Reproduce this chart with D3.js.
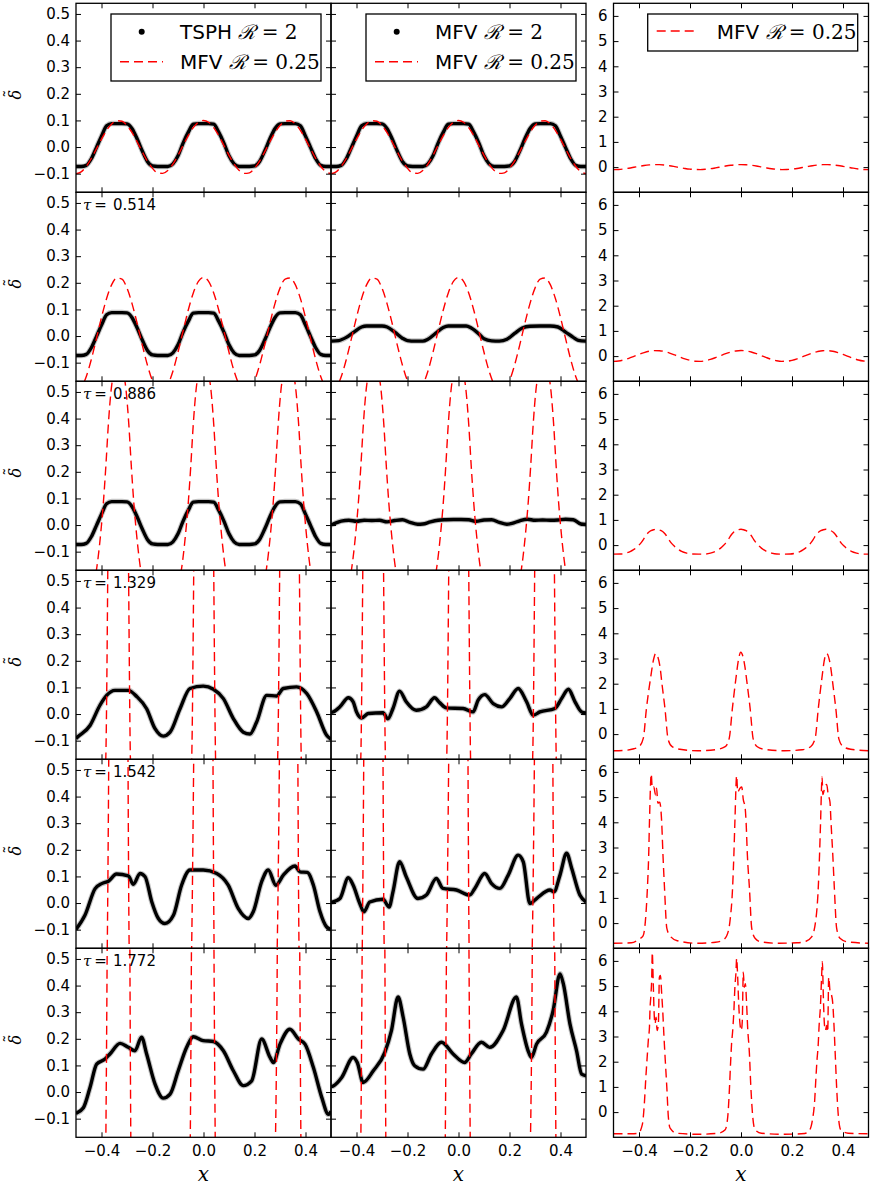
<!DOCTYPE html>
<html>
<head>
<meta charset="utf-8">
<script src="https://cdnjs.cloudflare.com/ajax/libs/d3/7.8.5/d3.min.js"></script>
<style>
body { margin: 0; background: #fff; }
svg text { font-family: "DejaVu Sans", sans-serif; fill: #000; }
</style>
</head>
<body>
<div id="chart"></div>
<script>
// sample positions used by the smooth early-time profiles
var xGrid = [-0.50,-0.48,-0.46,-0.44,-0.42,-0.40,-0.38,-0.36,-0.34,-0.32,-0.30,-0.28,-0.26,-0.24,-0.22,-0.20,-0.18,-0.16,-0.14,-0.12,-0.10,-0.08,-0.06,-0.04,-0.02,0.00,
	0.02,0.04,0.06,0.08,0.10,0.12,0.14,0.16,0.18,0.20,0.22,0.24,0.26,0.28,0.30,0.32,0.34,0.36,0.38,0.40,0.42,0.44,0.46,0.48,0.50];

// TSPH R=2 (rows 1-3 are unchanged), also the initial MFV R=2 profile
var tsphEarly = [-0.073,-0.073,-0.069,-0.044,-0.002,0.041,0.080,0.088,0.088,0.088,0.087,0.069,0.030,-0.015,-0.054,-0.071,-0.073,-0.073,-0.073,-0.063,-0.033,0.015,0.055,0.086,0.088,0.088,
	0.088,0.086,0.055,0.015,-0.033,-0.063,-0.073,-0.073,-0.073,-0.071,-0.054,-0.015,0.030,0.069,0.087,0.088,0.088,0.088,0.080,0.041,-0.002,-0.044,-0.069,-0.073,-0.073];

// MFV R=0.25 at tau=0 and tau=0.514
var red1 = [-0.100,-0.093,-0.073,-0.043,-0.007,0.030,0.063,0.087,0.099,0.097,0.081,0.054,0.019,-0.018,-0.053,-0.080,-0.097,-0.099,-0.088,-0.064,-0.031,0.006,0.043,0.073,0.093,0.100,
	0.093,0.073,0.043,0.006,-0.031,-0.064,-0.088,-0.099,-0.097,-0.080,-0.053,-0.018,0.019,0.054,0.081,0.097,0.099,0.087,0.063,0.030,-0.007,-0.043,-0.073,-0.093,-0.100];
var red2 = [-0.210,-0.195,-0.153,-0.088,-0.010,0.070,0.141,0.193,0.218,0.214,0.180,0.121,0.047,-0.034,-0.109,-0.168,-0.203,-0.208,-0.183,-0.132,-0.061,0.019,0.097,0.162,0.205,0.220,
	0.205,0.162,0.097,0.019,-0.061,-0.132,-0.183,-0.208,-0.203,-0.168,-0.109,-0.034,0.047,0.121,0.180,0.214,0.218,0.193,0.141,0.070,-0.010,-0.088,-0.153,-0.195,-0.210];

// MFV R=0.25, later times, [x, delta]
var red3 = [[-0.5,-0.36],[-0.473,-0.355],[-0.453,-0.32],[-0.433,-0.25],[-0.423,-0.19],[-0.413,-0.12],[-0.403,-0.03],[-0.393,0.08],[-0.383,0.22],[-0.373,0.38],[-0.363,0.50],[-0.353,0.57],[-0.343,0.61],[-0.333,0.63],
	[-0.323,0.61],[-0.313,0.57],[-0.303,0.50],[-0.293,0.38],[-0.283,0.22],[-0.273,0.08],[-0.263,-0.03],[-0.253,-0.12],[-0.243,-0.19],[-0.233,-0.25],[-0.213,-0.32],[-0.193,-0.355],[-0.167,-0.36],
	[-0.14,-0.355],[-0.12,-0.32],[-0.10,-0.25],[-0.09,-0.19],[-0.08,-0.12],[-0.07,-0.03],[-0.06,0.08],[-0.05,0.22],[-0.04,0.38],[-0.03,0.50],[-0.02,0.57],[-0.01,0.61],[0,0.63],
	[0.01,0.61],[0.02,0.57],[0.03,0.50],[0.04,0.38],[0.05,0.22],[0.06,0.08],[0.07,-0.03],[0.08,-0.12],[0.09,-0.19],[0.10,-0.25],[0.12,-0.32],[0.14,-0.355],[0.167,-0.36],
	[0.193,-0.355],[0.213,-0.32],[0.233,-0.25],[0.243,-0.19],[0.253,-0.12],[0.263,-0.03],[0.273,0.08],[0.283,0.22],[0.293,0.38],[0.303,0.50],[0.313,0.57],[0.323,0.61],[0.333,0.63],
	[0.343,0.61],[0.353,0.57],[0.363,0.50],[0.373,0.38],[0.383,0.22],[0.393,0.08],[0.403,-0.03],[0.413,-0.12],[0.423,-0.19],[0.433,-0.25],[0.453,-0.32],[0.473,-0.355],[0.5,-0.36]];
var red4 = [[-0.5,-0.66],[-0.45,-0.64],[-0.42,-0.58],[-0.40,-0.50],[-0.383,-0.16],[-0.371,1.0],[-0.355,2.2],[-0.342,3.0],[-0.335,3.2],[-0.318,2.7],[-0.310,2.0],[-0.298,1.0],[-0.286,-0.2],[-0.270,-0.5],
	[-0.24,-0.60],[-0.17,-0.66],[-0.10,-0.62],[-0.062,-0.5],[-0.046,-0.16],[-0.034,1.0],[-0.020,2.2],[-0.009,3.0],[-0.001,3.25],[0.015,2.7],[0.024,2.0],[0.036,1.0],[0.048,-0.2],[0.064,-0.5],
	[0.09,-0.60],[0.17,-0.66],[0.24,-0.62],[0.273,-0.5],[0.291,-0.16],[0.303,1.0],[0.317,2.2],[0.328,3.0],[0.336,3.2],[0.351,2.7],[0.360,2.0],[0.372,1.0],[0.384,-0.2],[0.401,-0.5],[0.43,-0.60],[0.5,-0.66]];
var red5 = [[-0.5,-0.80],[-0.43,-0.78],[-0.40,-0.64],[-0.384,-0.51],[-0.375,0.08],[-0.367,1.4],[-0.362,2.7],[-0.359,4.0],[-0.352,5.92],[-0.348,5.35],[-0.342,5.40],[-0.335,5.09],[-0.331,5.35],[-0.326,4.76],
	[-0.319,4.80],[-0.311,4.0],[-0.306,2.7],[-0.300,1.4],[-0.291,-0.2],[-0.278,-0.51],[-0.25,-0.70],[-0.17,-0.80],[-0.10,-0.76],[-0.075,-0.70],[-0.056,-0.50],[-0.043,0.10],[-0.033,1.4],[-0.028,2.7],
	[-0.024,4.0],[-0.017,5.85],[-0.013,5.2],[-0.004,5.35],[0.003,5.4],[0.009,4.9],[0.016,4.6],[0.020,4.0],[0.025,2.7],[0.033,1.4],[0.042,-0.2],[0.055,-0.6],[0.08,-0.75],[0.15,-0.80],[0.22,-0.78],
	[0.255,-0.72],[0.277,-0.55],[0.293,0.10],[0.303,1.4],[0.308,2.7],[0.312,4.0],[0.318,5.8],[0.321,5.1],[0.329,5.4],[0.336,5.5],[0.342,5.1],[0.349,4.8],[0.353,4.0],[0.360,2.7],[0.366,1.4],
	[0.375,-0.2],[0.388,-0.6],[0.42,-0.75],[0.5,-0.80]];
var red6 = [[-0.5,-0.86],[-0.43,-0.86],[-0.403,-0.84],[-0.387,-0.5],[-0.379,0.34],[-0.373,1.4],[-0.367,2.32],[-0.363,2.92],[-0.359,3.37],[-0.357,4.03],[-0.353,4.69],[-0.350,5.35],[-0.348,6.34],
	[-0.344,5.09],[-0.341,4.03],[-0.337,3.5],[-0.333,3.77],[-0.329,3.24],[-0.324,3.5],[-0.320,5.35],[-0.316,5.42],[-0.311,4.69],[-0.307,4.03],[-0.302,2.98],[-0.297,2.06],[-0.291,1.0],[-0.285,-0.18],
	[-0.278,-0.64],[-0.252,-0.84],[-0.17,-0.88],[-0.09,-0.84],[-0.062,-0.7],[-0.052,-0.19],[-0.045,1.0],[-0.041,1.92],[-0.037,2.71],[-0.033,3.18],[-0.028,4.0],[-0.024,4.95],[-0.020,5.5],[-0.017,6.1],
	[-0.013,5.35],[-0.009,4.3],[-0.004,3.5],[0.001,3.24],[0.005,3.6],[0.009,5.55],[0.013,4.95],[0.017,5.1],[0.022,4.3],[0.026,3.37],[0.033,2.32],[0.038,1.13],[0.046,-0.18],[0.055,-0.7],[0.08,-0.84],
	[0.17,-0.88],[0.25,-0.85],[0.270,-0.7],[0.280,-0.32],[0.289,0.47],[0.294,1.4],[0.298,2.06],[0.303,2.71],[0.306,3.37],[0.312,4.3],[0.316,5.35],[0.319,5.97],[0.323,4.56],[0.327,3.5],[0.331,3.24],
	[0.336,3.44],[0.340,3.18],[0.344,5.35],[0.349,4.82],[0.354,4.69],[0.360,4.3],[0.365,3.37],[0.370,2.19],[0.375,1.0],[0.382,-0.18],[0.391,-0.7],[0.42,-0.84],[0.5,-0.86]];

// TSPH R=2, later times
var tsph4 = [[-0.5,-0.092],[-0.497,-0.089],[-0.445,-0.043],[-0.406,0.033],[-0.380,0.070],[-0.347,0.089],[-0.295,0.089],[-0.262,0.066],[-0.223,0.020],[-0.190,-0.055],[-0.158,-0.083],[-0.131,-0.068],
	[-0.092,0.020],[-0.053,0.096],[-0.001,0.105],[0.039,0.093],[0.078,0.058],[0.117,-0.017],[0.156,-0.068],[0.182,-0.075],[0.208,-0.031],[0.248,0.070],[0.287,0.068],[0.313,0.096],[0.365,0.102],
	[0.405,0.077],[0.444,0.008],[0.483,-0.080],[0.5,-0.095]];
var tsph5 = [[-0.5,-0.099],[-0.465,-0.046],[-0.425,0.054],[-0.399,0.073],[-0.373,0.082],[-0.341,0.109],[-0.295,0.102],[-0.275,0.070],[-0.249,0.111],[-0.229,0.099],[-0.203,0.005],[-0.177,-0.058],
	[-0.151,-0.077],[-0.118,-0.046],[-0.086,0.067],[-0.053,0.124],[-0.001,0.124],[0.052,0.111],[0.097,0.067],[0.136,-0.020],[0.176,-0.058],[0.195,-0.033],[0.228,0.080],[0.254,0.124],[0.284,0.067],
	[0.313,0.105],[0.359,0.139],[0.378,0.117],[0.407,0.115],[0.431,0.067],[0.457,-0.033],[0.483,-0.090],[0.5,-0.099]];
var tsph6 = [[-0.5,-0.080],[-0.471,-0.059],[-0.445,0.017],[-0.419,0.105],[-0.386,0.124],[-0.367,0.143],[-0.327,0.183],[-0.295,0.168],[-0.269,0.155],[-0.243,0.206],[-0.223,0.143],[-0.190,0.030],
	[-0.158,-0.023],[-0.131,-0.008],[-0.099,0.080],[-0.066,0.168],[-0.040,0.208],[-0.001,0.193],[0.039,0.190],[0.078,0.155],[0.117,0.080],[0.156,0.024],[0.189,0.042],[0.228,0.199],[0.261,0.130],
	[0.274,0.111],[0.300,0.180],[0.339,0.236],[0.372,0.199],[0.398,0.180],[0.431,0.092],[0.464,-0.021],[0.490,-0.084],[0.5,-0.072]];

// MFV R=2, later times
var mfvB2 = [[-0.50,-0.019],[-0.47,-0.017],[-0.44,-0.005],[-0.41,0.015],[-0.38,0.034],[-0.36,0.038],[-0.33,0.038],[-0.30,0.038],[-0.28,0.034],[-0.25,0.015],[-0.22,-0.008],[-0.20,-0.017],
	[-0.17,-0.019],[-0.14,-0.019],[-0.12,-0.012],[-0.09,0.010],[-0.06,0.032],[-0.04,0.038],[0.0,0.038],[0.03,0.038],[0.05,0.030],[0.08,0.008],[0.10,-0.010],[0.13,-0.018],[0.16,-0.019],
	[0.19,-0.012],[0.22,0.010],[0.25,0.030],[0.28,0.037],[0.32,0.038],[0.36,0.038],[0.39,0.034],[0.42,0.015],[0.45,-0.005],[0.47,-0.016],[0.50,-0.019]];
var mfvB3 = [[-0.50,0.0],[-0.48,0.008],[-0.46,0.015],[-0.43,0.018],[-0.40,0.014],[-0.37,0.018],[-0.34,0.017],[-0.31,0.018],[-0.28,0.012],[-0.25,0.017],[-0.22,0.020],[-0.19,0.010],[-0.16,0.003],
	[-0.14,0.004],[-0.11,0.012],[-0.08,0.018],[-0.05,0.020],[-0.02,0.021],[0.01,0.021],[0.04,0.020],[0.07,0.014],[0.10,0.019],[0.13,0.020],[0.16,0.010],[0.19,0.003],[0.21,0.006],[0.24,0.016],
	[0.27,0.022],[0.30,0.018],[0.33,0.019],[0.36,0.018],[0.39,0.019],[0.42,0.022],[0.45,0.020],[0.48,0.004],[0.50,0.002]];
var mfvB4 = [[-0.5,0.006],[-0.491,0.008],[-0.465,0.027],[-0.432,0.061],[-0.413,0.046],[-0.400,0.008],[-0.380,-0.015],[-0.354,0.002],[-0.296,0.005],[-0.277,-0.018],[-0.257,0.021],[-0.231,0.086],
	[-0.205,0.046],[-0.166,0.014],[-0.126,0.027],[-0.094,0.061],[-0.074,0.043],[-0.048,0.023],[0.018,0.021],[0.057,0.008],[0.077,0.052],[0.103,0.073],[0.136,0.039],[0.169,0.027],[0.201,0.058],
	[0.234,0.096],[0.267,0.046],[0.293,-0.004],[0.319,0.008],[0.378,0.021],[0.404,0.058],[0.431,0.093],[0.457,0.046],[0.483,0.008],[0.5,0.004]];
var mfvB5 = [[-0.5,0.002],[-0.465,0.017],[-0.432,0.095],[-0.413,0.067],[-0.387,-0.002],[-0.371,-0.033],[-0.348,0.004],[-0.296,0.014],[-0.272,-0.015],[-0.257,0.042],[-0.231,0.155],[-0.205,0.099],
	[-0.159,0.017],[-0.126,0.030],[-0.087,0.092],[-0.061,0.055],[-0.008,0.049],[0.044,0.030],[0.064,0.055],[0.103,0.111],[0.129,0.074],[0.162,0.055],[0.195,0.105],[0.234,0.180],[0.254,0.155],
	[0.280,-0.002],[0.306,0.017],[0.359,0.049],[0.374,0.042],[0.398,0.105],[0.424,0.187],[0.444,0.130],[0.476,0.030],[0.5,0.004]];
var mfvB6 = [[-0.5,0.020],[-0.491,0.023],[-0.458,0.055],[-0.413,0.130],[-0.397,0.111],[-0.374,0.036],[-0.334,0.080],[-0.289,0.149],[-0.263,0.231],[-0.237,0.357],[-0.217,0.281],[-0.191,0.143],
	[-0.172,0.099],[-0.139,0.086],[-0.106,0.143],[-0.067,0.187],[-0.021,0.143],[0.024,0.111],[0.050,0.143],[0.090,0.187],[0.122,0.168],[0.175,0.231],[0.227,0.357],[0.247,0.256],[0.273,0.155],
	[0.286,0.130],[0.306,0.180],[0.345,0.225],[0.371,0.306],[0.398,0.444],[0.411,0.407],[0.437,0.256],[0.463,0.155],[0.483,0.067],[0.5,0.061]];

var tauLabels = ["", "0.514", "0.886", "1.329", "1.542", "1.772"];
var xTicks = [-0.4, -0.2, 0.0, 0.2, 0.4];
var yTicksLow = [-0.1, 0.0, 0.1, 0.2, 0.3, 0.4, 0.5];
var yTicksHigh = [0, 1, 2, 3, 4, 5, 6];

var onGrid = function(vals) { return xGrid.map(function(x, i) { return [x, vals[i]]; }); };

var rows = [
	{ tsph: onGrid(tsphEarly), mfvB: onGrid(tsphEarly), red: onGrid(red1) },
	{ tsph: onGrid(tsphEarly), mfvB: mfvB2, red: onGrid(red2) },
	{ tsph: onGrid(tsphEarly), mfvB: mfvB3, red: red3 },
	{ tsph: tsph4, mfvB: mfvB4, red: red4 },
	{ tsph: tsph5, mfvB: mfvB5, red: red5 },
	{ tsph: tsph6, mfvB: mfvB6, red: red6 }
];

var width = 872, height = 1191;
var colLeft = [76, 331, 613.5], colW = 255;
var top0 = 3.3, rowH = 189;
var dash = "9,5";

var svg = d3.select("#chart").append("svg")
	.attr("width", width)
	.attr("height", height);
var defs = svg.append("defs");

var fmt1 = d3.format(".1f");

rows.forEach(function(row, r) {
	var top = top0 + r * rowH;
	for (var c = 0; c < 3; c++) {
		var x = d3.scaleLinear().domain([-0.5, 0.5]).range([colLeft[c], colLeft[c] + colW]);
		var y = c < 2
			? d3.scaleLinear().domain([-0.17, 0.54]).range([top + rowH, top])
			: d3.scaleLinear().domain([-1.0, 6.5]).range([top + rowH, top]);
		var line = d3.line().x(d => x(d[0])).y(d => y(d[1])).curve(d3.curveMonotoneX);

		var clipId = "clip" + r + "_" + c;
		defs.append("clipPath").attr("id", clipId)
			.append("rect")
			.attr("x", colLeft[c]).attr("y", top)
			.attr("width", colW).attr("height", rowH);

		var g = svg.append("g").attr("clip-path", "url(#" + clipId + ")");

		if (c < 2) {
			var black = c === 0 ? row.tsph : row.mfvB;
			g.append("path").datum(black)
				.attr("d", line)
				.attr("fill", "none")
				.attr("stroke", "#555")
				.attr("stroke-opacity", 0.35)
				.attr("stroke-width", 5.5)
				.attr("stroke-linejoin", "round");
			g.append("path").datum(black)
				.attr("d", line)
				.attr("fill", "none")
				.attr("stroke", "#000")
				.attr("stroke-width", 3.4)
				.attr("stroke-linejoin", "round");
		}
		g.append("path").datum(row.red)
			.attr("d", line)
			.attr("fill", "none")
			.attr("stroke", "#ff0000")
			.attr("stroke-width", 1.4)
			.attr("stroke-dasharray", dash);

		// axes, ticks point inwards on all four sides
		var yt = c < 2 ? yTicksLow : yTicksHigh;
		var yFmt = c === 1 ? "" : (c === 0 ? fmt1 : d3.format("d"));
		var axes = [
			svg.append("g").attr("transform", "translate(0," + (top + rowH) + ")")
				.call(d3.axisBottom(x).tickValues(xTicks).tickSize(-5).tickPadding(8).tickFormat(r === 5 ? fmt1 : "")),
			svg.append("g").attr("transform", "translate(0," + top + ")")
				.call(d3.axisTop(x).tickValues(xTicks).tickSize(-5).tickFormat("")),
			svg.append("g").attr("transform", "translate(" + colLeft[c] + ",0)")
				.call(d3.axisLeft(y).tickValues(yt).tickSize(-5).tickPadding(6).tickFormat(yFmt)),
			svg.append("g").attr("transform", "translate(" + (colLeft[c] + colW) + ",0)")
				.call(d3.axisRight(y).tickValues(yt).tickSize(-5).tickFormat(""))
		];
		axes.forEach(function(a) {
			a.select(".domain").remove();
			a.selectAll(".tick line").attr("stroke", "#000").attr("stroke-width", 1);
			a.selectAll(".tick text").style("font-size", "15px").style("font-family", "DejaVu Sans");
		});

		svg.append("rect")
			.attr("x", colLeft[c]).attr("y", top)
			.attr("width", colW).attr("height", rowH)
			.attr("fill", "none")
			.attr("stroke", "#000")
			.attr("stroke-width", 1.3);

		if (r === 5) {
			svg.append("text")
				.attr("x", colLeft[c] + colW / 2).attr("y", 1181)
				.attr("text-anchor", "middle")
				.style("font-family", "DejaVu Serif").style("font-style", "italic")
				.style("font-size", "20px")
				.text("x");
		}
	}

	// y label: delta with a tilde, rotated
	var yl = svg.append("g").attr("transform", "translate(21," + (top + rowH / 2 - 3) + ") rotate(-90)");
	yl.append("text")
		.attr("text-anchor", "middle")
		.style("font-family", "DejaVu Serif").style("font-style", "italic")
		.style("font-size", "16px")
		.text("\u03b4");
	yl.append("text")
		.attr("x", 1).attr("y", -5)
		.attr("text-anchor", "middle")
		.style("font-family", "DejaVu Serif")
		.style("font-size", "16px")
		.text("\u02dc");

	if (tauLabels[r]) {
		var t = svg.append("text").attr("x", 83).attr("y", top + 17.5).style("font-size", "15px");
		t.append("tspan").style("font-family", "DejaVu Serif").style("font-style", "italic").text("\u03c4");
		t.append("tspan").style("font-family", "DejaVu Serif").text("\u2009=");
		t.append("tspan").attr("x", 113).text(tauLabels[r]);
	}
});

// legends
function legendLabel(gx, gy, name, val) {
	var t = svg.append("text").attr("x", gx).attr("y", gy).style("font-size", "20px");
	t.append("tspan").text(name + " ");
	t.append("tspan").style("font-family", "DejaVu Serif").style("font-style", "italic").text("\u211b");
	t.append("tspan").style("font-family", "DejaVu Serif").text(" = " + val);
}
function dashSample(x0, x1, yy) {
	svg.append("line")
		.attr("x1", x0).attr("x2", x1).attr("y1", yy).attr("y2", yy)
		.attr("stroke", "#ff0000").attr("stroke-width", 1.4)
		.attr("stroke-dasharray", dash);
}

[{ off: 0, name: "TSPH" }, { off: 255, name: "MFV" }].forEach(function(L) {
	svg.append("rect")
		.attr("x", 111 + L.off).attr("y", 14).attr("width", 210).attr("height", 67)
		.attr("fill", "#fff").attr("stroke", "#000").attr("stroke-width", 1.3);
	svg.append("circle").attr("cx", 141.7 + L.off).attr("cy", 31.7).attr("r", 3).attr("fill", "#000");
	legendLabel(180 + L.off, 39, L.name, "2");
	dashSample(120 + L.off, 163 + L.off, 61.7);
	legendLabel(180 + L.off, 69, "MFV", "0.25");
});

svg.append("rect")
	.attr("x", 647.7).attr("y", 14).attr("width", 210).attr("height", 37)
	.attr("fill", "#fff").attr("stroke", "#000").attr("stroke-width", 1.3);
dashSample(656.7, 698.3, 31);
legendLabel(716.7, 38.5, "MFV", "0.25");
</script>
</body>
</html>
